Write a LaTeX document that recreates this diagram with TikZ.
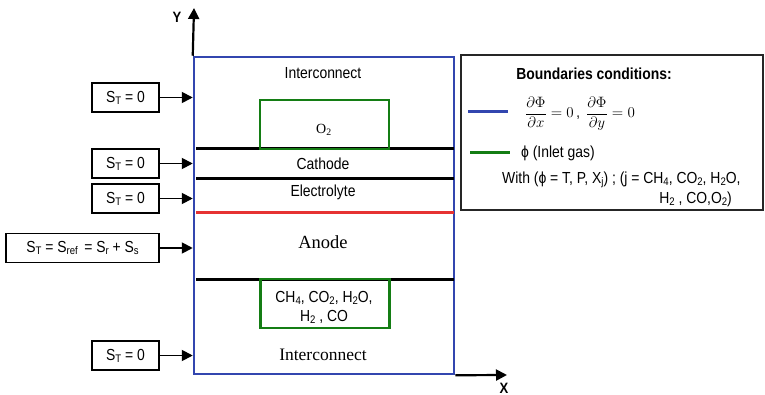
\RequirePackage{fix-cm}
\documentclass[tikz,border=0pt]{standalone}
\usepackage{fontspec}
\setmainfont{Liberation Serif}
\newfontfamily\sfn[FakeStretch=0.87]{Liberation Sans}
\usetikzlibrary{arrows.meta}
\definecolor{bblue}{RGB}{50,70,175}
\definecolor{ggreen}{RGB}{20,125,20}
\definecolor{rred}{RGB}{230,50,50}
\newcommand\sbx[1]{\raisebox{-0.25ex}{\fontsize{11}{11}\selectfont #1}}
\begin{document}
\begin{tikzpicture}[x=1pt,y=-1pt,
  sf/.style={font=\sfn\fontsize{16}{19}\selectfont, inner sep=0pt},
  sr/.style={font=\fontsize{17.5}{20}\selectfont, inner sep=0pt},
  lbox/.style={draw=black, line width=1.4pt, sf, minimum height=29pt},
  arr/.style={-{Triangle[length=11pt,width=11pt]}, line width=1.8pt},
  layer/.style={line width=3pt},
  gbox/.style={draw=ggreen, line width=2.6pt, inner sep=0pt}]
\useasboundingbox (0,0) rectangle (765,395);
% main box
\node[draw=bblue, line width=2.5pt, minimum width=260pt, minimum height=317pt, inner sep=0pt] (mb) at (324,215.5) {};
% layers
\coordinate (l1a) at (196,149); \coordinate (l1b) at (454,149);
\coordinate (l2a) at (196,179); \coordinate (l2b) at (454,179);
\coordinate (l3a) at (196,213); \coordinate (l3b) at (454,213);
\coordinate (l4a) at (196,279); \coordinate (l4b) at (454,279);
\draw[layer] (l1a) -- (l1b);
\draw[layer] (l2a) -- (l2b);
\draw[layer, rred] (l3a) -- (l3b);
\draw[layer] (l4a) -- (l4b);
% green channels
\node[gbox, minimum width=129pt, minimum height=49pt] (ch1) at (324.5,124.5) {};
\node[gbox, minimum width=129pt, minimum height=49pt] (ch2) at (325,303.5) {};
% texts in cell
\node[sf] (t1) at (323,73) {Interconnect};
\node[font=\fontsize{14}{16}\selectfont, inner sep=0pt] (t2) at (324,130) {O\textsubscript{2}};
\node[sf] (t3) at (323,164) {Cathode};
\node[sf] (t4) at (323,192) {Electrolyte};
\node[font=\fontsize{18.5}{20}\selectfont, inner sep=0pt] (t5) at (323,242) {Anode};
\node[sf, align=center] (t6) at (324,307) {CH\sbx{4}, CO\sbx{2}, H\sbx{2}O,\\H\sbx{2} , CO};
\node[sr] (t7) at (323,355) {Interconnect};
% axes
\coordinate (ytip) at (194,8);
\coordinate (xtip) at (507,375);
\draw[arr, line width=2.2pt] (mb.north west) -- (ytip);
\draw[arr, line width=2.2pt] (mb.south east) -- (xtip);
\node[sf, font=\sfn\bfseries\fontsize{15}{17}\selectfont] (ylab) at (177,17) {Y};
\node[sf, font=\sfn\bfseries\fontsize{15}{17}\selectfont] (xlab) at (504,388) {X};
% left boxes
\node[lbox, minimum width=67pt] (b1) at (125.5,97.5) {S\sbx{T} = 0};
\node[lbox, minimum width=67pt] (b2) at (125.5,163.5) {S\sbx{T} = 0};
\node[lbox, minimum width=67pt] (b3) at (125.5,198.5) {S\sbx{T} = 0};
\node[lbox, minimum width=153pt] (b4) at (82.5,248) {S\sbx{T} = S\sbx{ref}\, = S\sbx{r} + S\sbx{s}};
\node[lbox, minimum width=67pt] (b5) at (125.5,355.5) {S\sbx{T} = 0};
\foreach \b in {b1,b2,b3,b4,b5}
  \draw[arr] (\b.east) -- (\b.east -| mb.west);
% legend
\node[draw=black!85, line width=2pt, minimum width=302pt, minimum height=155pt, inner sep=0pt] (leg) at (612,132.5) {};
\node[sf, font=\sfn\bfseries\fontsize{16}{19}\selectfont] (lt) at (594,74) {Boundaries conditions:};
\coordinate (bl1) at (468,112); \coordinate (bl2) at (508,112);
\draw[bblue, line width=3pt] (bl1) -- (bl2);
\node[inner sep=0pt, font=\fontsize{15}{17}\selectfont] (form) at (580,114) {$\displaystyle\frac{\partial\Phi}{\partial x}=0$\,{\sfn,}\, $\displaystyle\frac{\partial\Phi}{\partial y}=0$};
\coordinate (gl1) at (470,153); \coordinate (gl2) at (510,153);
\draw[ggreen, line width=3pt] (gl1) -- (gl2);
\node[sf, anchor=west] (lg1) at (521,153) {ϕ (Inlet gas)};
\node[sf, anchor=west] (lg2) at (502,180) {With (ϕ = T, P, X\sbx{j}) ; (j = CH\sbx{4}, CO\sbx{2}, H\sbx{2}O,};
\node[sf, anchor=east] (lg3) at (732,199) {H\sbx{2} , CO,O\sbx{2})};
\end{tikzpicture}
\end{document}
